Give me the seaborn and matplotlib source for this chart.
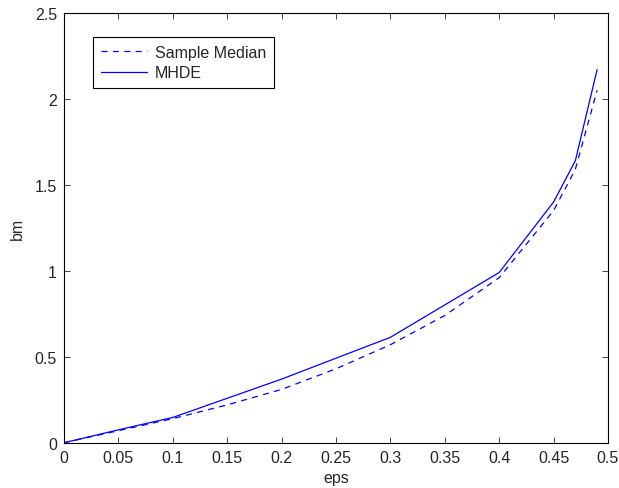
import numpy as np
import pandas as pd
import matplotlib
matplotlib.use("Agg")
import matplotlib.pyplot as plt
import seaborn as sns

eps_median = [0, 0.05, 0.1, 0.15, 0.2, 0.25, 0.3, 0.35, 0.4, 0.45, 0.47, 0.49]
bm_median = [0, 0.07, 0.14, 0.22, 0.31, 0.43, 0.57, 0.74, 0.96, 1.35, 1.59, 2.05]
eps_mhde = [0, 0.05, 0.1, 0.2, 0.3, 0.4, 0.45, 0.47, 0.49]
bm_mhde = [0, 0.075, 0.147, 0.37, 0.613, 0.99, 1.40, 1.64, 2.17]
xticks = [0, 0.05, 0.1, 0.15, 0.2, 0.25, 0.3, 0.35, 0.4, 0.45, 0.5]
yticks = [0, 0.5, 1, 1.5, 2, 2.5]

sns.set_style("ticks")
plt.rcParams['font.family'] = ['Liberation Sans', 'DejaVu Sans']

df = pd.concat([
    pd.DataFrame({"eps": eps_median, "bm": bm_median, "series": "Sample Median"}),
    pd.DataFrame({"eps": eps_mhde, "bm": bm_mhde, "series": "MHDE"}),
])

fs = 11.5
fig = plt.figure(figsize=(6.19, 4.89), dpi=100)
ax = fig.add_axes([0.1034, 0.0926, 0.8788, 0.879])
sns.lineplot(data=df, x="eps", y="bm", hue="series", style="series",
             palette={"Sample Median": "#0000ff", "MHDE": "#0000ff"},
             dashes={"Sample Median": (4.8, 4.3), "MHDE": ""},
             linewidth=0.9, ax=ax, sort=False)
ax.set_xlim(0, 0.5)
ax.set_ylim(0, 2.5)
ax.set_xticks(xticks)
ax.set_xticklabels([f"{t:g}" for t in xticks])
ax.set_yticks(yticks)
ax.set_yticklabels([f"{t:g}" for t in yticks])
ax.tick_params(direction="in", top=True, right=True, labelsize=fs, length=4, width=0.6, pad=5)
for s in ax.spines.values():
    s.set_linewidth(0.8)
    s.set_color("black")
ax.set_xlabel("eps", fontsize=fs, labelpad=4)
ax.set_ylabel("bm", fontsize=fs, labelpad=7)
leg = ax.legend(loc="upper left", bbox_to_anchor=(0.053, 0.945), fontsize=fs,
                fancybox=False, edgecolor="black", framealpha=1, borderaxespad=0,
                handlelength=2.9, handletextpad=0.5, borderpad=0.5, labelspacing=0.35)
leg.get_frame().set_linewidth(0.8)
fig.savefig("out.png", dpi=100)
